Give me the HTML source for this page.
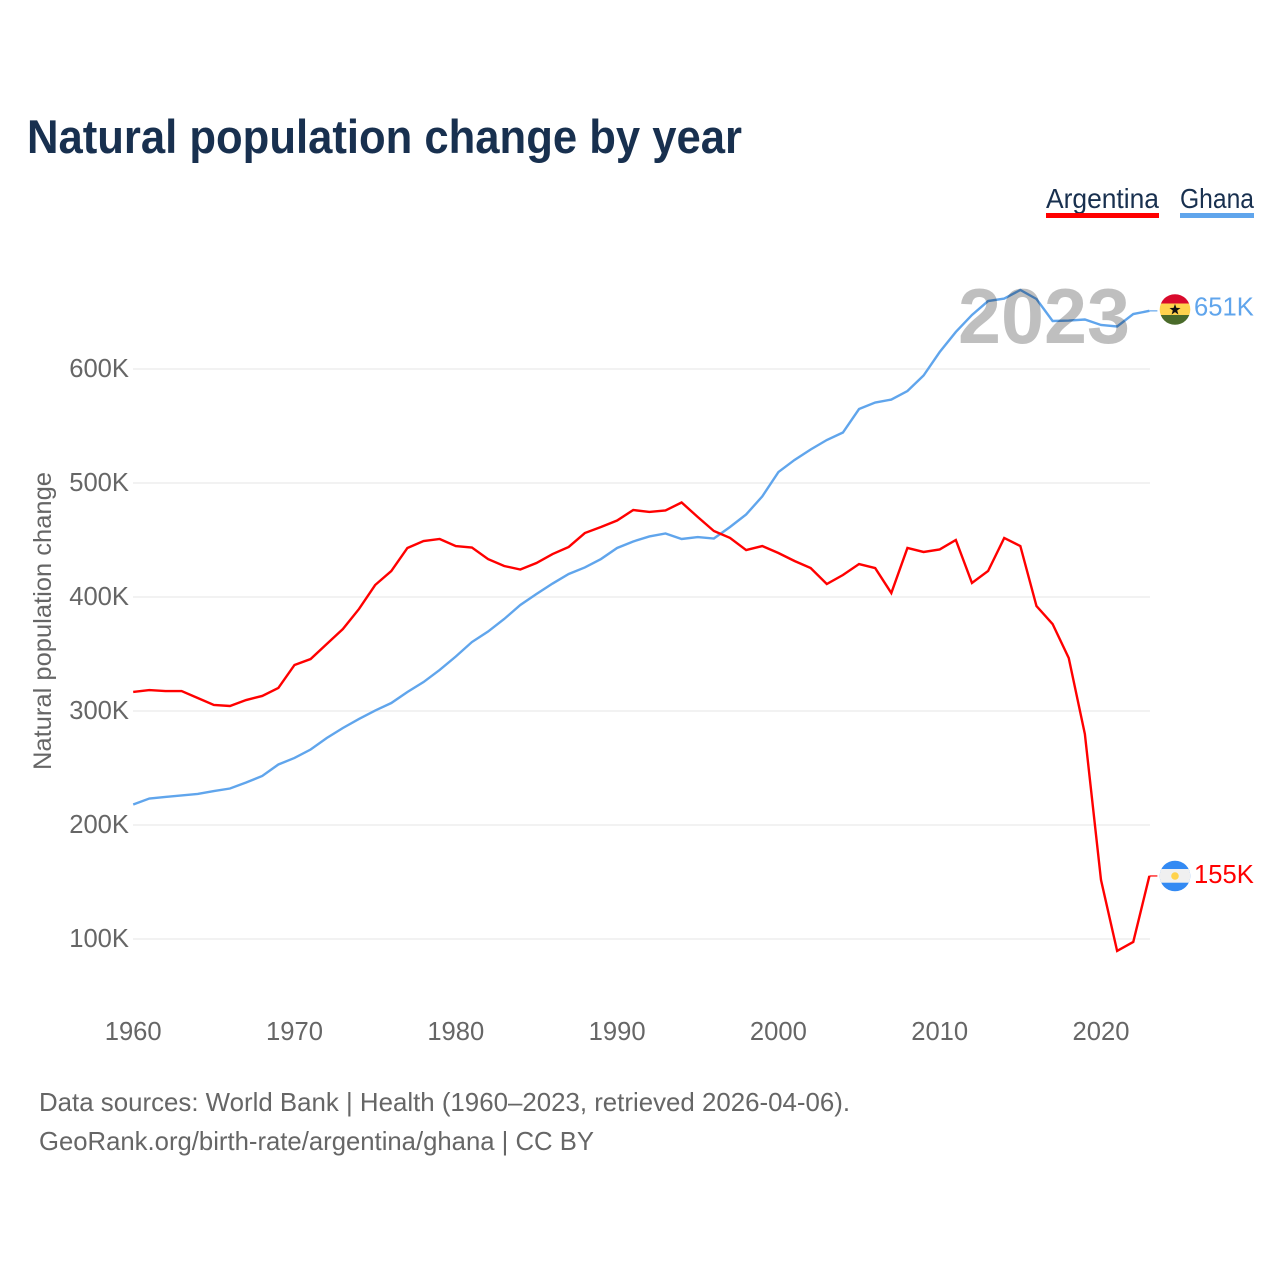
<!DOCTYPE html>
<html lang="en">
<head>
<meta charset="utf-8">
<title>Natural population change by year</title>
<style>
html,body{margin:0;padding:0;background:#fff;width:1280px;height:1280px;overflow:hidden}
svg{display:block}
text{font-family:"Liberation Sans",sans-serif}
</style>
</head>
<body>
<svg id="chart" xmlns="http://www.w3.org/2000/svg" width="1280" height="1280" viewBox="0 0 1280 1280">
  <text x="27" y="153" font-size="47" font-weight="700" fill="#18304f" textLength="715" lengthAdjust="spacingAndGlyphs">Natural population change by year</text>

  <g>
    <g>
      <text x="1046" y="208" font-size="27.5" fill="#18304f" textLength="113" lengthAdjust="spacingAndGlyphs">Argentina</text>
      <rect x="1046" y="213" width="113" height="5" fill="#ff0000"/>
    </g>
    <g>
      <text x="1180" y="208" font-size="27.5" fill="#18304f" textLength="74" lengthAdjust="spacingAndGlyphs">Ghana</text>
      <rect x="1180" y="213" width="74" height="5" fill="#60a5ec"/>
    </g>
  </g>

  <g id="grid"></g>
  <g id="yticks"></g>
  <g id="xticks"></g>
  <text transform="translate(51,621) rotate(-90)" text-anchor="middle" font-size="25" fill="#666666" textLength="298" lengthAdjust="spacingAndGlyphs">Natural population change</text>

  <g id="series"></g>

  <text x="1044" y="343" text-anchor="middle" font-size="78" font-weight="700" fill="#000000" fill-opacity="0.25" textLength="172" lengthAdjust="spacingAndGlyphs">2023</text>

  <defs>
    <clipPath id="clip-gh"><circle cx="1175" cy="309.5" r="15.3"/></clipPath>
    <clipPath id="clip-ar"><circle cx="1175" cy="876" r="15.3"/></clipPath>
  </defs>
  <g clip-path="url(#clip-gh)">
    <rect x="1159" y="294" width="32" height="9.5" fill="#d90a2c"/>
    <rect x="1159" y="303.5" width="32" height="11.5" fill="#ffd34d"/>
    <rect x="1159" y="315" width="32" height="11" fill="#4a6b2a"/>
    <polygon fill="#111" points="1175,304 1176.4,307.9 1180.5,308 1177.2,310.5 1178.4,314.5 1175,312.1 1171.6,314.5 1172.8,310.5 1169.5,308 1173.6,307.9"/>
  </g>
  <g clip-path="url(#clip-ar)">
    <rect x="1159" y="860" width="32" height="32" fill="#338af3"/>
    <rect x="1159" y="869" width="32" height="13.7" fill="#f0f0f0"/>
    <circle cx="1175" cy="876" r="3.8" fill="#ffd34d"/>
  </g>

  <text id="label-ghana" x="1194" y="315.5" font-size="25.6" fill="#60a5ec"></text>
  <text id="label-argentina" x="1194" y="883" font-size="25.6" fill="#ff0000"></text>

  <g>
    <text x="39" y="1111" font-size="26" fill="#666666" textLength="811" lengthAdjust="spacingAndGlyphs">Data sources: World Bank | Health (1960–2023, retrieved 2026-04-06).</text>
    <text x="39" y="1150" font-size="26" fill="#666666" textLength="555" lengthAdjust="spacingAndGlyphs">GeoRank.org/birth-rate/argentina/ghana | CC BY</text>
  </g>
</svg>

<script>
const firstYear = 1960;
const argentinaValues = [316.7,318.4,317.5,317.5,311.4,305.3,304.4,309.6,313.2,320.2,340.4,345.6,358.8,371.9,389.5,410.5,422.8,443.0,449.1,450.9,444.7,443.4,433.3,427.2,424.1,429.8,437.7,443.9,456.1,461.4,467.1,476.3,474.6,475.9,482.9,470.2,457.9,451.8,441.2,444.7,438.6,431.6,425.4,411.4,419.3,428.9,425.4,403.5,443.0,439.5,441.7,450.0,412.3,422.8,451.8,444.7,392.1,376.3,346.5,279.8,151.8,89.5,97.4,155.3];
const ghanaValues = [218.0,223.2,224.6,225.9,227.2,229.8,232.0,237.3,243.0,253.1,258.8,266.2,276.3,285.1,293.0,300.4,307.0,316.7,325.4,336.0,347.8,360.5,369.7,380.7,393.0,402.6,411.8,420.2,425.9,433.3,443.0,448.7,453.1,455.7,450.9,452.6,451.3,461.4,472.4,488.2,509.6,520.2,529.4,537.7,544.3,564.9,570.6,573.2,580.7,594.3,614.9,632.5,647.4,659.6,661.8,669.3,661.4,642.1,642.5,643.4,638.6,637.3,648.2,651.0];
const yTickValues = [100,200,300,400,500,600];
const xTickValues = [1960,1970,1980,1990,2000,2010,2020];

const SVG_NS = 'http://www.w3.org/2000/svg';
function xScale(year){ return 133.2 + (year - 1960) * 16.13; }
function yScale(v){ return 939 - (v - 100) * 1.14; }
function fmtK(v){ return Math.round(v) + 'K'; }

const gridGroup = document.getElementById('grid');
const yGroup = document.getElementById('yticks');
const xGroup = document.getElementById('xticks');
const seriesGroup = document.getElementById('series');

yTickValues.forEach(function(v){
  const line = document.createElementNS(SVG_NS, 'line');
  
  
  line.setAttribute('x1', 133);
  line.setAttribute('x2', 1150);
  line.setAttribute('y1', yScale(v));
  line.setAttribute('y2', yScale(v));
  line.setAttribute('stroke', '#eeeeee');
  line.setAttribute('stroke-width', '1.5');
  gridGroup.appendChild(line);

  const label = document.createElementNS(SVG_NS, 'text');
  
  
  label.setAttribute('x', 129);
  label.setAttribute('y', yScale(v) + 8);
  label.setAttribute('text-anchor', 'end');
  label.setAttribute('font-size', '25.6');
  label.setAttribute('fill', '#666666');
  label.textContent = fmtK(v);
  yGroup.appendChild(label);
});

xTickValues.forEach(function(year){
  const label = document.createElementNS(SVG_NS, 'text');
  
  
  label.setAttribute('x', xScale(year));
  label.setAttribute('y', 1040);
  label.setAttribute('text-anchor', 'middle');
  label.setAttribute('font-size', '25.6');
  label.setAttribute('fill', '#666666');
  label.textContent = String(year);
  xGroup.appendChild(label);
});

function pathFor(values){
  return values.map(function(v, i){
    return (i ? 'L' : 'M') + xScale(firstYear + i).toFixed(2) + ' ' + yScale(v).toFixed(2);
  }).join(' ');
}

const ghanaLine = document.createElementNS(SVG_NS, 'path');


ghanaLine.setAttribute('d', pathFor(ghanaValues));
ghanaLine.setAttribute('fill', 'none');
ghanaLine.setAttribute('stroke', '#60a5ec');
ghanaLine.setAttribute('stroke-width', '2.4');
ghanaLine.setAttribute('stroke-linejoin', 'miter');
seriesGroup.appendChild(ghanaLine);

const argentinaLine = document.createElementNS(SVG_NS, 'path');


argentinaLine.setAttribute('d', pathFor(argentinaValues));
argentinaLine.setAttribute('fill', 'none');
argentinaLine.setAttribute('stroke', '#ff0000');
argentinaLine.setAttribute('stroke-width', '2.4');
argentinaLine.setAttribute('stroke-linejoin', 'miter');
seriesGroup.appendChild(argentinaLine);

const lastYear = firstYear + ghanaValues.length - 1;

const ghanaLeader = document.createElementNS(SVG_NS, 'line');


ghanaLeader.setAttribute('x1', xScale(lastYear));
ghanaLeader.setAttribute('x2', xScale(lastYear) + 8);
ghanaLeader.setAttribute('y1', yScale(ghanaValues[ghanaValues.length - 1]));
ghanaLeader.setAttribute('y2', yScale(ghanaValues[ghanaValues.length - 1]));
ghanaLeader.setAttribute('stroke', '#60a5ec');
ghanaLeader.setAttribute('stroke-width', '1.2');
seriesGroup.appendChild(ghanaLeader);

const argentinaLeader = document.createElementNS(SVG_NS, 'line');


argentinaLeader.setAttribute('x1', xScale(lastYear));
argentinaLeader.setAttribute('x2', xScale(lastYear) + 8);
argentinaLeader.setAttribute('y1', yScale(argentinaValues[argentinaValues.length - 1]));
argentinaLeader.setAttribute('y2', yScale(argentinaValues[argentinaValues.length - 1]));
argentinaLeader.setAttribute('stroke', '#ff0000');
argentinaLeader.setAttribute('stroke-width', '1.2');
seriesGroup.appendChild(argentinaLeader);

document.getElementById('label-ghana').textContent = fmtK(ghanaValues[ghanaValues.length - 1]);
document.getElementById('label-argentina').textContent = fmtK(argentinaValues[argentinaValues.length - 1]);
</script>
</body>
</html>
